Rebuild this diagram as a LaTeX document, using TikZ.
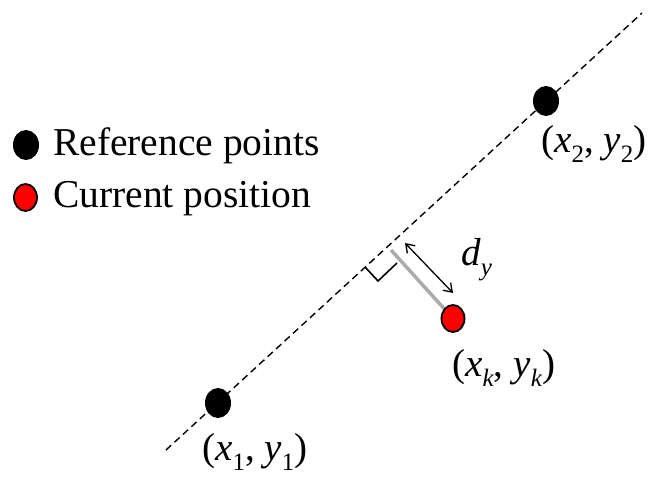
\documentclass[tikz,border=0pt]{standalone}
\usepackage{fontspec}
\setmainfont{Liberation Serif}
\usetikzlibrary{arrows.meta,positioning,calc,shapes.geometric}
\definecolor{ptred}{HTML}{FF0000}
\definecolor{perpgrey}{HTML}{ABABAB}
\newcommand{\lsub}[1]{\raisebox{-10pt}{\fontsize{25}{25}\selectfont #1}}
\tikzset{
  refpt/.style = {ellipse, fill=black, minimum width=26pt, minimum height=30pt, inner sep=0pt},
  curpt/.style = {ellipse, draw=black, line width=1.8pt, fill=ptred, minimum width=23pt,
                  minimum height=27pt, inner sep=0pt},
  guide/.style = {dash pattern=on 7pt off 4.5pt, line width=1.4pt},
  wire/.style  = {draw=perpgrey, line width=3.5pt},
  sig/.style   = {{Straight Barb[length=8pt,width=11pt]}-{Straight Barb[length=8pt,width=11pt]},
                  line width=1.3pt},
  lbl/.style   = {font=\fontsize{39}{40}\selectfont, inner sep=0pt, anchor=base west},
  leg/.style   = {font=\fontsize{39.5}{42}\selectfont, inner sep=0pt, anchor=base west},
}
\begin{document}
\begin{tikzpicture}[x=1pt,y=-1pt]
  \useasboundingbox (0,0) rectangle (660,476);
  % line through the reference points
  \coordinate (lo) at (166,450);
  \coordinate (hi) at (642,13);
  \draw[guide] (lo) -- (hi);
  % perpendicular from the current position
  \coordinate (ft) at (391,250);
  \draw[wire] (ft) -- (453,318.5);
  \draw[line width=1.6pt] (365,267) -- (378,281) -- (397,263);
  \node[refpt] (p1) at (218,403) {};
  \node[refpt] (p2) at (546,101) {};
  \node[curpt] (pk) at (453,318.5) {};
  \node[lbl] (p1l) at (202,460) {(\textit{x}\lsub{1}, \textit{y}\lsub{1})};
  \node[lbl] (p2l) at (541,152) {(\textit{x}\lsub{2}, \textit{y}\lsub{2})};
  \node[lbl] (pkl) at (452,376) {(\textit{x}\lsub{\textit{k}}, \textit{y}\lsub{\textit{k}})};
  \coordinate (da) at (405,243);
  \coordinate (db) at (453,293);
  \draw[sig] (da) -- (db);
  \node[lbl] (dy) at (461,265) {\textit{d}\lsub{\textit{y}}};
  % legend
  \node[refpt] (lg1) at (26,145) {};
  \node[leg] (lg1t) at (53,155) {Reference points};
  \node[curpt] (lg2) at (25.5,197.5) {};
  \node[leg] (lg2t) at (53,207) {Current position};
\end{tikzpicture}
\end{document}
